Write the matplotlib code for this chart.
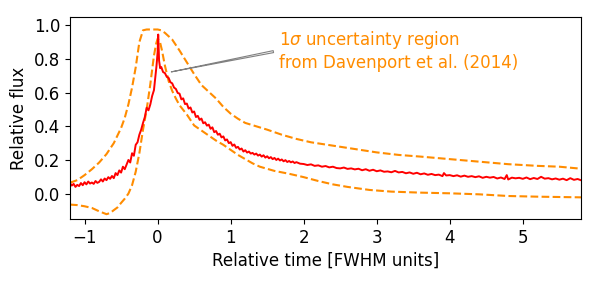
import matplotlib
matplotlib.use('Agg')
import matplotlib.pyplot as plt

# observed flare profile (relative time in FWHM units, relative flux)
t_obs = [-1.20, -1.175, -1.15, -1.125, -1.10, -1.075, -1.05, -1.025, -1.00, -0.975,
         -0.95, -0.925, -0.90, -0.875, -0.85, -0.825, -0.80, -0.775, -0.75, -0.725,
         -0.70, -0.675, -0.65, -0.625, -0.60, -0.575, -0.55, -0.525, -0.50, -0.475,
         -0.45, -0.425, -0.40, -0.375, -0.35, -0.325, -0.30, -0.275, -0.25, -0.225,
         -0.20, -0.175, -0.15, -0.125, -0.10, -0.075, -0.05, -0.03, -0.015, 0.00,
         0.008, 0.02, 0.035, 0.05, 0.075, 0.10, 0.125, 0.15, 0.175, 0.20,
         0.225, 0.25, 0.275, 0.30, 0.325, 0.35, 0.375, 0.40, 0.425, 0.45,
         0.475, 0.50, 0.525, 0.55, 0.575, 0.60, 0.625, 0.65, 0.675, 0.70,
         0.725, 0.75, 0.775, 0.80, 0.825, 0.85, 0.875, 0.90, 0.925, 0.95,
         0.975, 1.00, 1.025, 1.05, 1.075, 1.10, 1.125, 1.15, 1.175, 1.20,
         1.225, 1.25, 1.275, 1.30, 1.325, 1.35, 1.375, 1.40, 1.425, 1.45,
         1.475, 1.50, 1.525, 1.55, 1.575, 1.60, 1.625, 1.65, 1.675, 1.70,
         1.725, 1.75, 1.775, 1.80, 1.825, 1.85, 1.875, 1.90, 1.95, 2.00,
         2.05, 2.10, 2.15, 2.20, 2.25, 2.30, 2.35, 2.40, 2.45, 2.50,
         2.55, 2.60, 2.65, 2.70, 2.75, 2.80, 2.85, 2.90, 2.95, 3.00,
         3.05, 3.10, 3.15, 3.20, 3.25, 3.30, 3.35, 3.40, 3.45, 3.50,
         3.55, 3.60, 3.65, 3.70, 3.75, 3.80, 3.85, 3.90, 3.92, 3.95,
         4.00, 4.05, 4.10, 4.15, 4.20, 4.25, 4.30, 4.35, 4.40, 4.45,
         4.50, 4.55, 4.60, 4.65, 4.70, 4.75, 4.78, 4.80, 4.85, 4.90,
         4.95, 5.00, 5.05, 5.10, 5.15, 5.20, 5.25, 5.30, 5.35, 5.40,
         5.45, 5.50, 5.55, 5.60, 5.65, 5.70, 5.75, 5.80]
f_obs = [0.062, 0.048, 0.058, 0.040, 0.052, 0.045, 0.063, 0.050, 0.068, 0.055,
         0.072, 0.060, 0.066, 0.058, 0.075, 0.064, 0.070, 0.085, 0.072, 0.090,
         0.080, 0.098, 0.088, 0.105, 0.092, 0.122, 0.110, 0.138, 0.125, 0.160,
         0.145, 0.172, 0.200, 0.185, 0.240, 0.225, 0.290, 0.305, 0.350, 0.380,
         0.420, 0.455, 0.510, 0.495, 0.530, 0.580, 0.615, 0.700, 0.760, 0.840,
         0.945, 0.790, 0.745, 0.752, 0.722, 0.716, 0.694, 0.688, 0.662, 0.655,
         0.630, 0.622, 0.598, 0.594, 0.560, 0.566, 0.532, 0.535, 0.505, 0.512,
         0.482, 0.488, 0.455, 0.462, 0.438, 0.446, 0.418, 0.424, 0.404, 0.410,
         0.385, 0.394, 0.365, 0.372, 0.350, 0.356, 0.334, 0.340, 0.316, 0.322,
         0.300, 0.306, 0.284, 0.292, 0.272, 0.278, 0.262, 0.268, 0.250, 0.258,
         0.244, 0.250, 0.238, 0.242, 0.232, 0.238, 0.226, 0.232, 0.220, 0.228,
         0.214, 0.222, 0.210, 0.217, 0.205, 0.212, 0.200, 0.208, 0.197, 0.203,
         0.192, 0.199, 0.188, 0.194, 0.186, 0.191, 0.182, 0.187, 0.178, 0.176,
         0.170, 0.174, 0.165, 0.168, 0.160, 0.164, 0.156, 0.160, 0.152, 0.150,
         0.155, 0.147, 0.150, 0.144, 0.148, 0.139, 0.145, 0.136, 0.142, 0.133,
         0.138, 0.130, 0.132, 0.127, 0.135, 0.126, 0.129, 0.121, 0.126, 0.118,
         0.124, 0.115, 0.120, 0.112, 0.117, 0.110, 0.113, 0.104, 0.122, 0.108,
         0.110, 0.104, 0.109, 0.101, 0.107, 0.100, 0.104, 0.098, 0.103, 0.094,
         0.100, 0.095, 0.099, 0.090, 0.096, 0.087, 0.110, 0.084, 0.095, 0.091,
         0.094, 0.088, 0.096, 0.086, 0.093, 0.087, 0.100, 0.089, 0.092, 0.085,
         0.090, 0.083, 0.089, 0.080, 0.092, 0.082, 0.087, 0.079]

# 1 sigma envelope of the Davenport et al. (2014) template
t_up = [-1.2, -1.1, -1.0, -0.9, -0.8, -0.7, -0.6, -0.5, -0.45, -0.4,
        -0.35, -0.3, -0.25, -0.2, -0.15, -0.1, -0.05, 0.0, 0.05, 0.1,
        0.15, 0.2, 0.3, 0.4, 0.5, 0.6, 0.7, 0.8, 0.9, 1.0,
        1.1, 1.2, 1.35, 1.5, 1.7, 1.9, 2.1, 2.4, 2.7, 3.0,
        3.3, 3.6, 4.0, 4.4, 4.8, 5.2, 5.5, 5.8]
f_up = [0.065, 0.080, 0.110, 0.145, 0.185, 0.235, 0.300, 0.390, 0.450, 0.530,
        0.630, 0.750, 0.900, 0.970, 0.975, 0.975, 0.975, 0.975, 0.970, 0.955,
        0.935, 0.915, 0.850, 0.780, 0.710, 0.645, 0.605, 0.565, 0.515, 0.475,
        0.445, 0.420, 0.400, 0.380, 0.350, 0.325, 0.305, 0.285, 0.265, 0.245,
        0.230, 0.220, 0.205, 0.190, 0.175, 0.165, 0.160, 0.148]

t_lo = [-1.2, -1.1, -1.0, -0.9, -0.8, -0.7, -0.65, -0.6, -0.55, -0.5,
        -0.45, -0.4, -0.35, -0.3, -0.25, -0.2, -0.15, -0.1, -0.05, -0.02,
        0.0, 0.03, 0.06, 0.1, 0.15, 0.2, 0.25, 0.3, 0.4, 0.5,
        0.6, 0.7, 0.8, 0.9, 1.0, 1.1, 1.2, 1.3, 1.4, 1.6,
        1.8, 2.0, 2.2, 2.4, 2.6, 2.9, 3.2, 3.6, 4.0, 4.4,
        4.8, 5.2, 5.5, 5.8]
f_lo = [-0.065, -0.068, -0.075, -0.085, -0.105, -0.122, -0.115, -0.098, -0.082, -0.055,
        -0.030, 0.000, 0.050, 0.130, 0.240, 0.380, 0.500, 0.650, 0.820, 0.890,
        0.920, 0.905, 0.850, 0.760, 0.670, 0.610, 0.565, 0.525, 0.470, 0.405,
        0.375, 0.345, 0.315, 0.290, 0.260, 0.230, 0.205, 0.180, 0.160, 0.135,
        0.118, 0.098, 0.075, 0.055, 0.040, 0.022, 0.012, 0.006, 0.002, -0.004,
        -0.014, -0.018, -0.020, -0.022]

plt.rcParams['font.size'] = 12

fig, ax = plt.subplots(figsize=(5.98, 2.81), dpi=100)
fig.subplots_adjust(left=0.117, right=0.972, top=0.94, bottom=0.221)

ax.plot(t_up, f_up, '--', color='darkorange', lw=1.5)
ax.plot(t_lo, f_lo, '--', color='darkorange', lw=1.5)
ax.plot(t_obs, f_obs, color='red', lw=1.4)

ax.annotate(r'1$\sigma$ uncertainty region' + '\nfrom Davenport et al. (2014)',
            xy=(0.15, 0.72), xytext=(1.66, 0.85), color='darkorange',
            ha='left', va='center',
            arrowprops=dict(arrowstyle='wedge,tail_width=0.12', fc='white',
                            ec='gray', lw=0.8, relpos=(0, 0.5)))

ax.set_xlim(-1.2, 5.8)
ax.set_ylim(-0.15, 1.05)
ax.set_xlabel('Relative time [FWHM units]')
ax.set_ylabel('Relative flux')

plt.savefig('out.png', dpi=100)
